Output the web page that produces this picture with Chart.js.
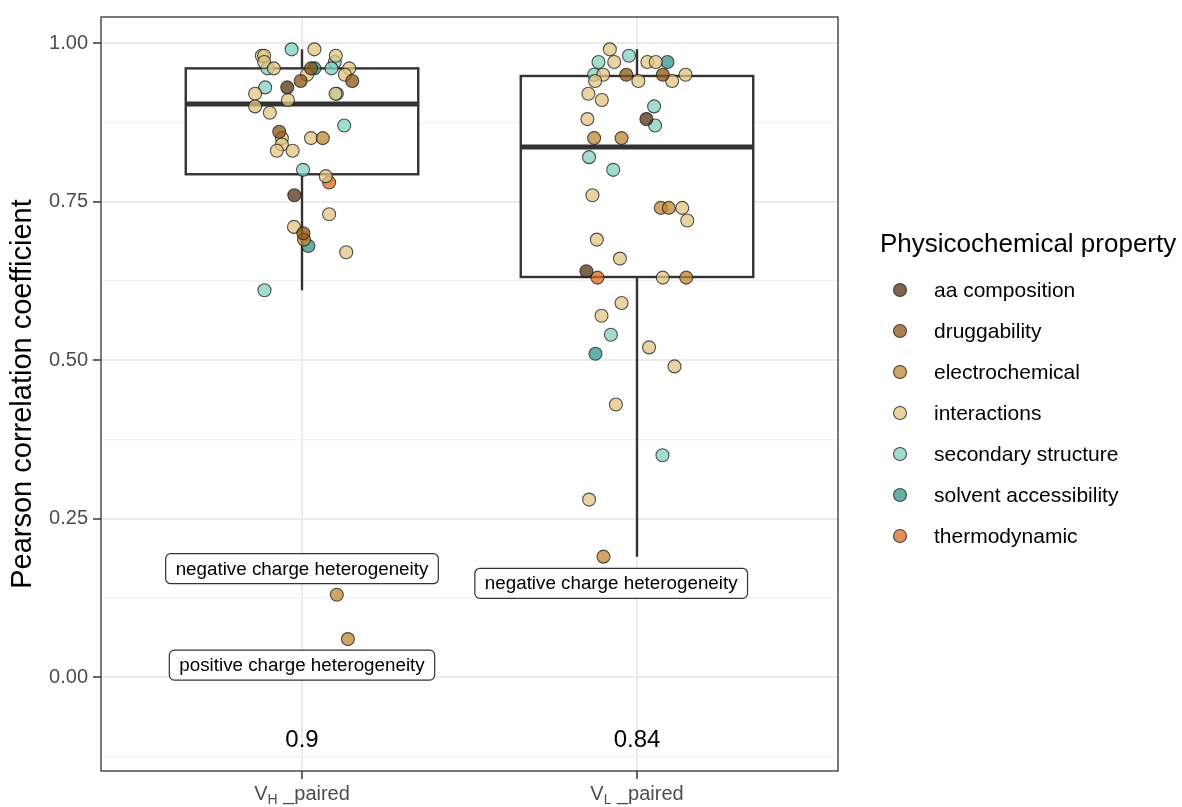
<!DOCTYPE html>
<html>
<head>
<meta charset="utf-8">
<script src="https://cdn.jsdelivr.net/npm/chart.js@4.4.1/dist/chart.umd.min.js"></script>
<style>
  html, body { margin: 0; padding: 0; background: #fff; }
  #wrap { width: 1182px; height: 807px; }
</style>
</head>
<body>
<div id="wrap"><canvas id="grafico" width="1182" height="807"></canvas></div>
<script>
// chains: V_H _paired, V_L _paired
const chains = ['H', 'L'];

const propKeys = ['aa', 'drug', 'elec', 'int', 'sec', 'solv', 'therm'];
const propNames = ['aa composition', 'druggability', 'electrochemical', 'interactions',
  'secondary structure', 'solvent accessibility', 'thermodynamic'];
const propFill = ['rgba(84,50,18,0.75)', 'rgba(140,84,18,0.75)', 'rgba(191,134,50,0.75)',
  'rgba(226,198,130,0.75)', 'rgba(130,208,194,0.75)', 'rgba(50,148,140,0.75)', 'rgba(218,106,28,0.75)'];

// heavy chain correlations
const vhProp = ['sec', 'int', 'int', 'int', 'int', 'int', 'sec', 'int', 'sec', 'int', 'drug', 'solv',
  'sec', 'int', 'int', 'drug', 'drug', 'aa', 'sec', 'int', 'sec', 'int', 'int', 'int', 'int', 'sec',
  'drug', 'int', 'int', 'int', 'elec', 'int', 'int', 'sec', 'int', 'therm', 'aa', 'int', 'int',
  'drug', 'elec', 'solv', 'int', 'sec', 'elec', 'elec'];
const vhValue = [0.99, 0.99, 0.98, 0.98, 0.97, 0.98, 0.97, 0.96, 0.96, 0.96, 0.96, 0.96,
  0.96, 0.95, 0.95, 0.94, 0.94, 0.93, 0.93, 0.92, 0.92, 0.92, 0.91, 0.90, 0.89, 0.87,
  0.86, 0.85, 0.84, 0.85, 0.85, 0.83, 0.83, 0.80, 0.79, 0.78, 0.76, 0.73, 0.71,
  0.70, 0.69, 0.68, 0.67, 0.61, 0.13, 0.06];
const vhJitter = [-0.031, 0.037, -0.120, -0.113, -0.113, 0.101, 0.098, 0.141, -0.103, -0.084, 0.027, 0.037,
  0.088, 0.128, 0.015, 0.150, -0.004, -0.044, -0.110, -0.140, 0.104, 0.100, -0.042, -0.140, -0.096, 0.126,
  -0.068, -0.060, -0.060, 0.027, 0.062, -0.075, -0.028, 0.003, 0.071, 0.081, -0.023, 0.081, -0.024,
  0.004, 0.006, 0.019, 0.132, -0.112, 0.104, 0.137];

// light chain correlations
const vlProp = ['int', 'sec', 'sec', 'int', 'int', 'int', 'solv', 'sec', 'int', 'drug', 'drug', 'int',
  'int', 'int', 'int', 'int', 'int', 'sec', 'int', 'aa', 'sec', 'elec', 'elec', 'sec', 'sec', 'int',
  'elec', 'elec', 'int', 'int', 'int', 'int', 'aa', 'therm', 'int', 'elec', 'int', 'int', 'sec',
  'solv', 'int', 'int', 'int', 'sec', 'int', 'elec'];
const vlValue = [0.99, 0.98, 0.97, 0.97, 0.97, 0.97, 0.97, 0.95, 0.95, 0.95, 0.95, 0.95,
  0.94, 0.94, 0.94, 0.92, 0.91, 0.90, 0.88, 0.88, 0.87, 0.85, 0.85, 0.82, 0.80, 0.76,
  0.74, 0.74, 0.74, 0.72, 0.69, 0.66, 0.64, 0.63, 0.63, 0.63, 0.59, 0.57, 0.54,
  0.51, 0.52, 0.49, 0.43, 0.35, 0.28, 0.19];
const vlJitter = [-0.081, -0.024, -0.115, -0.068, 0.031, 0.056, 0.091, -0.128, -0.101, -0.032, 0.077, 0.145,
  -0.125, 0.004, 0.105, -0.145, -0.105, 0.051, -0.148, 0.028, 0.054, -0.128, -0.046, -0.143, -0.071, -0.133,
  0.071, 0.095, 0.135, 0.150, -0.120, -0.051, -0.151, -0.118, 0.077, 0.147, -0.046, -0.106, -0.078,
  -0.124, 0.036, 0.112, -0.063, 0.076, -0.143, -0.100];

// box statistics per chain
const boxLower = [0.61, 0.19];
const boxQ1 = [0.793, 0.631];
const boxMedian = [0.904, 0.836];
const boxQ3 = [0.960, 0.948];
const boxUpper = [0.99, 0.99];

const yMajor = [0, 0.25, 0.5, 0.75, 1];
const yMinor = [-0.125, 0.125, 0.375, 0.625, 0.875];

// outlier labels
const noteText = ['negative charge heterogeneity', 'positive charge heterogeneity', 'negative charge heterogeneity'];
const noteX = [1, 1, 1.923];
const noteY = [0.171, 0.019, 0.148];

const FONT = '"Liberation Sans", Arial, sans-serif';
const INK = '#333333';

function buildPoints(props, values, jitter, pos) {
  return props.map((p, i) => ({ k: propKeys.indexOf(p), x: pos + jitter[i], y: values[i] }));
}
const allPoints = buildPoints(vhProp, vhValue, vhJitter, 1).concat(buildPoints(vlProp, vlValue, vlJitter, 2));

const datasets = propNames.map((name, k) => ({
  label: name,
  data: allPoints.filter(p => p.k === k).map(p => ({ x: p.x, y: p.y })),
  backgroundColor: propFill[k],
  borderColor: 'rgba(25,25,25,0.75)',
  borderWidth: 1.1,
  pointRadius: 6.5,
  pointHoverRadius: 6.5
}));

function roundRect(ctx, x, y, w, h, r) {
  ctx.beginPath();
  ctx.moveTo(x + r, y);
  ctx.arcTo(x + w, y, x + w, y + h, r);
  ctx.arcTo(x + w, y + h, x, y + h, r);
  ctx.arcTo(x, y + h, x, y, r);
  ctx.arcTo(x, y, x + w, y, r);
  ctx.closePath();
}

// boxes and whiskers under the points
const boxPlugin = {
  id: 'boxes',
  beforeDatasetsDraw(chart) {
    const { ctx, scales: { x, y } } = chart;
    const halfW = 0.347;
    ctx.save();
    ctx.strokeStyle = INK;
    chains.forEach((c, i) => {
      const cx = x.getPixelForValue(i + 1);
      const x0 = x.getPixelForValue(i + 1 - halfW);
      const x1 = x.getPixelForValue(i + 1 + halfW);
      const yq1 = y.getPixelForValue(boxQ1[i]);
      const yq3 = y.getPixelForValue(boxQ3[i]);
      ctx.lineWidth = 2.4;
      ctx.beginPath();
      ctx.moveTo(cx, yq3); ctx.lineTo(cx, y.getPixelForValue(boxUpper[i]));
      ctx.moveTo(cx, yq1); ctx.lineTo(cx, y.getPixelForValue(boxLower[i]));
      ctx.stroke();
      ctx.fillStyle = '#fff';
      ctx.fillRect(x0, yq3, x1 - x0, yq1 - yq3);
      ctx.strokeRect(x0, yq3, x1 - x0, yq1 - yq3);
      ctx.lineWidth = 5;
      ctx.beginPath();
      const ym = y.getPixelForValue(boxMedian[i]);
      ctx.moveTo(x0, ym); ctx.lineTo(x1, ym);
      ctx.stroke();
    });
    ctx.restore();
  }
};

// labels, medians, panel border, axis labels, legend
const overlayPlugin = {
  id: 'overlay',
  afterDraw(chart) {
    const { ctx, chartArea: a, scales: { x, y } } = chart;
    ctx.save();

    // outlier notes
    ctx.font = '18.8px ' + FONT;
    ctx.textAlign = 'center';
    ctx.textBaseline = 'middle';
    noteText.forEach((t, i) => {
      const px = x.getPixelForValue(noteX[i]);
      const py = y.getPixelForValue(noteY[i]);
      const w = ctx.measureText(t).width + 20;
      const h = 30;
      roundRect(ctx, px - w / 2, py - h / 2, w, h, 5);
      ctx.fillStyle = '#fff';
      ctx.fill();
      ctx.lineWidth = 1.2;
      ctx.strokeStyle = INK;
      ctx.stroke();
      ctx.fillStyle = '#000';
      ctx.fillText(t, px, py + 1);
    });

    // median values
    ctx.font = '24px ' + FONT;
    ctx.fillStyle = '#000';
    chains.forEach((c, i) => {
      const txt = String(Number(boxMedian[i].toFixed(2)));
      ctx.fillText(txt, x.getPixelForValue(i + 1), y.getPixelForValue(-0.1));
    });

    // panel border
    ctx.lineWidth = 1.3;
    ctx.strokeStyle = INK;
    ctx.strokeRect(a.left, a.top, a.right - a.left, a.bottom - a.top);

    // category labels with subscript
    ctx.fillStyle = '#4d4d4d';
    ctx.textBaseline = 'alphabetic';
    ctx.textAlign = 'left';
    chains.forEach((c, i) => {
      const big = '20px ' + FONT, small = '14px ' + FONT;
      ctx.font = big;
      const wV = ctx.measureText('V').width;
      const wRest = ctx.measureText(' _paired').width;
      ctx.font = small;
      const wSub = ctx.measureText(c).width;
      let px = x.getPixelForValue(i + 1) - (wV + wSub + wRest) / 2;
      const base = 800;
      ctx.font = big;
      ctx.fillText('V', px, base);
      px += wV;
      ctx.font = small;
      ctx.fillText(c, px, base + 4);
      px += wSub;
      ctx.font = big;
      ctx.fillText(' _paired', px, base);
    });

    // legend
    ctx.fillStyle = '#000';
    ctx.font = '26px ' + FONT;
    ctx.fillText('Physicochemical property', 880, 252);
    ctx.font = '21px ' + FONT;
    ctx.textBaseline = 'middle';
    propNames.forEach((name, k) => {
      const ly = 290 + k * 41;
      ctx.beginPath();
      ctx.arc(900, ly, 6.5, 0, Math.PI * 2);
      ctx.fillStyle = propFill[k];
      ctx.fill();
      ctx.lineWidth = 1.1;
      ctx.strokeStyle = 'rgba(25,25,25,0.75)';
      ctx.stroke();
      ctx.fillStyle = '#000';
      ctx.fillText(name, 934, ly + 1);
    });

    ctx.restore();
  }
};

const isMajor = v => yMajor.some(m => Math.abs(m - v) < 1e-9);

const ctx = document.getElementById('grafico').getContext('2d');
new Chart(ctx, {
  type: 'scatter',
  data: { datasets },
  options: {
    responsive: false,
    animation: false,
    events: [],
    layout: { padding: { top: 14, right: 344, bottom: 0, left: 0 } },
    plugins: {
      legend: { display: false },
      tooltip: { enabled: false }
    },
    scales: {
      x: {
        type: 'linear',
        min: 0.4,
        max: 2.6,
        afterBuildTicks: s => { s.ticks = [1, 2].map(v => ({ value: v })); },
        afterFit: s => { s.height = 36; },
        ticks: { display: false },
        border: { display: false },
        grid: {
          color: '#ebebeb',
          lineWidth: 2,
          tickColor: INK,
          tickLength: 8,
          tickWidth: 1.5
        }
      },
      y: {
        min: -0.148,
        max: 1.041,
        afterBuildTicks: s => {
          s.ticks = yMinor.concat(yMajor).sort((p, q) => p - q).map(v => ({ value: v }));
        },
        afterFit: s => { s.width = 101; },
        border: { display: false },
        ticks: {
          padding: 5,
          color: '#4d4d4d',
          font: { family: FONT, size: 20 },
          callback: v => isMajor(v) ? v.toFixed(2) : ''
        },
        grid: {
          color: c => isMajor(c.tick.value) ? '#ebebeb' : '#f1f1f1',
          lineWidth: c => isMajor(c.tick.value) ? 2 : 1.2,
          tickColor: c => isMajor(c.tick.value) ? INK : 'rgba(0,0,0,0)',
          tickLength: 8,
          tickWidth: 1.5
        },
        title: {
          display: true,
          text: 'Pearson correlation coefficient',
          color: '#000',
          font: { family: FONT, size: 29 },
          padding: { top: 6, bottom: 0 }
        }
      }
    }
  },
  plugins: [boxPlugin, overlayPlugin]
});
</script>
</body>
</html>
